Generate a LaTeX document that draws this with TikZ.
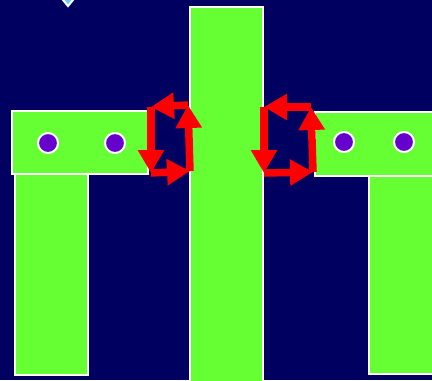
\documentclass[tikz,border=0pt]{standalone}
\usepackage{tikz}
\usetikzlibrary{arrows.meta}
\definecolor{mechnavy}{RGB}{0,0,96}
\definecolor{mechgreen}{RGB}{102,255,51}
\definecolor{mechpurple}{RGB}{102,0,204}
\definecolor{mechred}{RGB}{255,0,0}
\begin{document}
\begin{tikzpicture}[x=0.02cm,y=-0.02cm,
  block/.style={draw=white,line width=0.035cm,fill=mechgreen},
  pin/.style={draw=white,line width=0.04cm,fill=mechpurple},
  turn/.style={-{Triangle[length=0.46cm,width=0.5cm]},draw=mechred,line width=0.15cm}]

\clip (0,0) rectangle (432,380);
\fill[mechnavy] (0,0) rectangle (432,380);
\filldraw[draw=white,fill=cyan!60,line width=0.04cm] (68,6)--(73,0)--(68,-6)--(63,0)--cycle;

% left arm
\draw[block] (15,174) rectangle (88,375);
\draw[block] (12,111) rectangle (148,174);
\draw[pin] (48,143) circle (10);
\draw[pin] (115,143) circle (10);

% middle column
\draw[block] (190,7) rectangle (263,385);

% right arm
\draw[block] (369,176) rectangle (440,374);
\draw[block] (315,112) rectangle (440,176);
\draw[pin] (344,142) circle (10);
\draw[pin] (404,142) circle (10);

% left turning arrows
\coordinate (ltl) at (151,107);
\coordinate (lbl) at (151,173);
\coordinate (lbr) at (190,171);
\coordinate (ltr) at (188,105);
\draw[turn] (ltr)--(ltl);
\draw[turn] (ltl)--(lbl);
\draw[turn] (lbl)--(lbr);
\draw[turn] (lbr)--(ltr);

% right turning arrows
\coordinate (rtl) at (264,107);
\coordinate (rbl) at (264,173);
\coordinate (rbr) at (313,172);
\coordinate (rtr) at (311,107);
\draw[turn] (rtr)--(rtl);
\draw[turn] (rtl)--(rbl);
\draw[turn] (rbl)--(rbr);
\draw[turn] (rbr)--(rtr);

\end{tikzpicture}
\end{document}
